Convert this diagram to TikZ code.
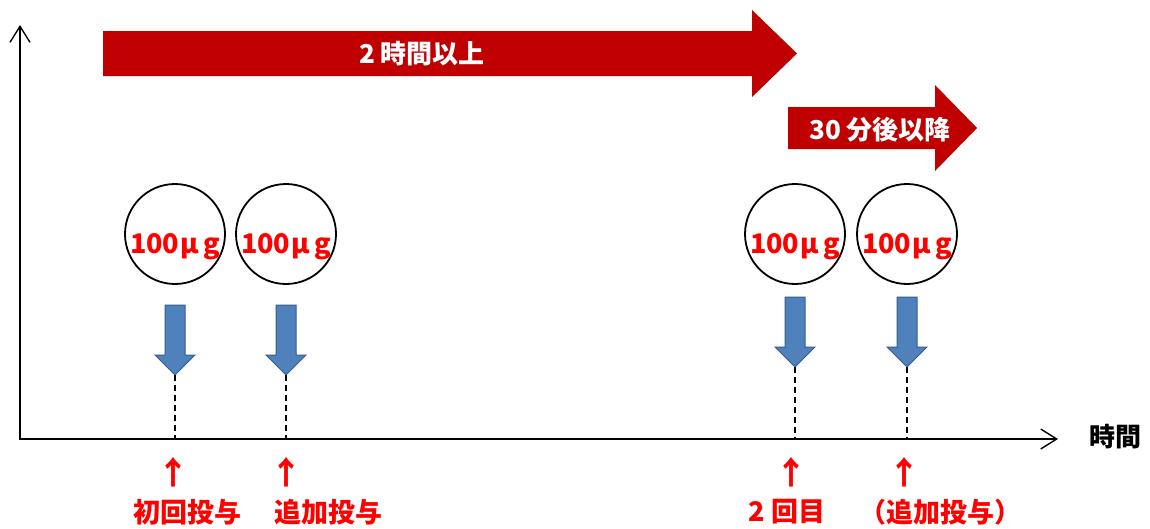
\documentclass[tikz,border=0pt]{standalone}
\usepackage{fontspec}
\setmainfont{Noto Sans CJK JP}
\usetikzlibrary{arrows.meta}
\definecolor{darkred}{HTML}{C00000}
\definecolor{bluefill}{HTML}{4F81BD}
\definecolor{blueline}{HTML}{385D8A}
\definecolor{txtred}{HTML}{FF0000}
\newcommand\bluearrow[3]{%
  \filldraw[bluearr] ({#1-10},#2) -- ({#1+10},#2) -- ({#1+10},{#2+50}) -- ({#1+20},{#2+50})
    -- (#1,{#2+70}) -- ({#1-20},{#2+50}) -- ({#1-10},{#2+50}) -- cycle;
  \coordinate (#3) at (#1,{#2+70});}
\newcommand\dosetext{100\hspace{1.5pt}μ\hspace{4pt}g}
\begin{document}
\begin{tikzpicture}[x=1pt,y=-1pt,
  axis/.style={line width=1.4pt,-{Straight Barb[length=16pt,width=20pt,line width=1.4pt]}},
  bluearr/.style={fill=bluefill,draw=blueline,line width=1pt},
  dose/.style={circle,draw=black,line width=1.8pt,minimum size=100pt,inner sep=0pt},
  dosetxt/.style={text=txtred,font=\fontsize{27}{30}\selectfont\bfseries,anchor=base,inner sep=0pt},
  bartxt/.style={text=white,font=\fontsize{26}{30}\selectfont\bfseries,inner sep=0pt},
  lbl/.style={text=txtred,font=\fontsize{27}{30}\selectfont\bfseries,inner sep=0pt},
  uparr/.style={text=txtred,font=\fontsize{32}{34}\selectfont\bfseries,inner sep=0pt},
  dashline/.style={line width=2.8pt,dash pattern=on 6pt off 4pt}]
\useasboundingbox (0,0) rectangle (1150,528);
% axes
\coordinate (O) at (20,439);
\coordinate (Ytop) at (20,25);
\coordinate (Xend) at (1058,439);
\draw[axis] (O) -- (Ytop);
\draw[axis] (19.3,439) -- (Xend);
\node[font=\fontsize{26}{30}\selectfont\bfseries,inner sep=0pt] (xlab) at (1115,437) {時間};
% red block arrows
\fill[darkred] (103,31) -- (752,31) -- (752,10) -- (797,53.5) -- (752,97) -- (752,76) -- (103,76) -- cycle;
\node[bartxt] (t1) at (422,54) {2 時間以上};
\fill[darkred] (788,107) -- (935,107) -- (935,85) -- (977,128) -- (935,171) -- (935,149) -- (788,149) -- cycle;
\node[bartxt] (t2) at (880,130) {30 分後以降};
% doses
\node[dose] (c1) at (175,234) {};
\node[dose] (c2) at (286,234) {};
\node[dose] (c3) at (795,234) {};
\node[dose] (c4) at (907,234) {};
\node[dosetxt] (d1) at (175,253) {\dosetext};
\node[dosetxt] (d2) at (286,253) {\dosetext};
\node[dosetxt] (d3) at (795,253) {\dosetext};
\node[dosetxt] (d4) at (907,253) {\dosetext};
% blue arrows
\bluearrow{175}{305}{a1}
\bluearrow{286}{305}{a2}
\bluearrow{795}{297}{a3}
\bluearrow{907}{297}{a4}
\draw[dashline] (a1) -- (a1 |- O);
\draw[dashline] (a2) -- (a2 |- O);
\draw[dashline] (a3) -- (a3 |- O);
\draw[dashline] (a4) -- (a4 |- O);
% up arrows and labels
\node[uparr] (u1) at (173,472) {↑};
\node[uparr] (u2) at (286,472) {↑};
\node[uparr] (u3) at (791,472) {↑};
\node[uparr] (u4) at (904,472) {↑};
\node[lbl] (l1) at (187,512) {初回投与};
\node[lbl] (l2) at (328,512) {追加投与};
\node[lbl] (l3) at (787,512) {2 回目};
\node[lbl] (l4) at (940,512) {（追加投与）};
\end{tikzpicture}
\end{document}
